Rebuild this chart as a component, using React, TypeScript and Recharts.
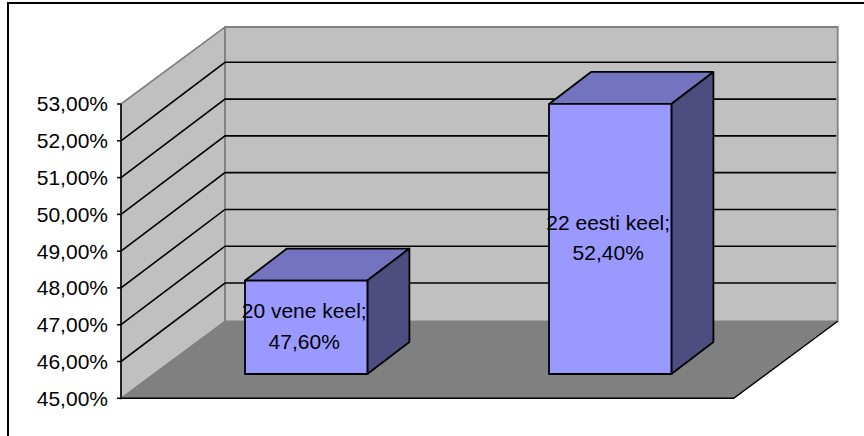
import { Bar, BarChart, CartesianGrid, LabelList, XAxis, YAxis } from 'recharts';

const categories = ['vene keel', 'eesti keel'];
const counts = [20, 22];
const shares = [47.6, 52.4];
const yTicks = [45, 46, 47, 48, 49, 50, 51, 52, 53];

const rows = categories.map((name, i) => ({ name, count: counts[i], share: shares[i] }));

const WIDTH = 864;
const HEIGHT = 436;

// front plane of the 3D box, everything else hangs off these
const LEFT = 121;
const RIGHT = 733.7;
const TOP = 104;
const BOTTOM = 398.3;
const DEPTH_X = 104;
const DEPTH_Y = 77;
const GRID_DEPTH_Y = 78.5;

// bars stand inside the floor, with their own shallower depth
const BAR_SHIFT_X = 33;
const BAR_SHIFT_TOP = 22.1;
const BAR_SHIFT_BASE = 24.3;
const BAR_DEPTH_X = 42;
const BAR_DEPTH_Y = 32;

const FONT = '"Liberation Sans", Arial, sans-serif';
const formatPercent = (v: number) => `${v.toFixed(2).replace('.', ',')}%`;

const pts = (list: number[][]) => list.map((p) => p.join(',')).join(' ');

const Walls = () => (
  <g>
    {/* only the top and left edges of the frame are in view */}
    <polyline points={pts([[8, HEIGHT], [8, 3], [WIDTH, 3]])} fill="none" stroke="#000" strokeWidth={2} />
    <polygon
      points={pts([[LEFT, TOP], [LEFT + DEPTH_X, TOP - DEPTH_Y], [LEFT + DEPTH_X, BOTTOM - DEPTH_Y], [LEFT, BOTTOM]])}
      fill="#c0c0c0"
      stroke="#808080"
      strokeWidth={1.6}
    />
    <polygon
      points={pts([[LEFT + DEPTH_X, TOP - DEPTH_Y], [RIGHT + DEPTH_X, TOP - DEPTH_Y], [RIGHT + DEPTH_X, BOTTOM - DEPTH_Y], [LEFT + DEPTH_X, BOTTOM - DEPTH_Y]])}
      fill="#c0c0c0"
      stroke="#808080"
      strokeWidth={1.8}
    />
    <polygon
      points={pts([[LEFT, BOTTOM], [LEFT + DEPTH_X, BOTTOM - DEPTH_Y], [RIGHT + DEPTH_X, BOTTOM - DEPTH_Y], [RIGHT, BOTTOM]])}
      fill="#808080"
    />
    <polyline
      points={pts([[LEFT, BOTTOM], [RIGHT, BOTTOM], [RIGHT + DEPTH_X, BOTTOM - DEPTH_Y]])}
      fill="none"
      stroke="#000"
      strokeWidth={1.4}
    />
  </g>
);

// a gridline runs up the side wall and then across the back wall
const WallGridLine = (props: any) => {
  const { y1, index } = props;
  if (y1 <= TOP + 1 || y1 >= BOTTOM - 1) return <g key={index} />;
  return (
    <polyline
      key={index}
      points={pts([[LEFT, y1], [LEFT + DEPTH_X, y1 - GRID_DEPTH_Y], [RIGHT + DEPTH_X - 1.5, y1 - GRID_DEPTH_Y]])}
      fill="none"
      stroke="#000"
      strokeWidth={1.6}
    />
  );
};

const Box = (props: any) => {
  const { x, y, width, height } = props;
  const x0 = x + BAR_SHIFT_X;
  const x1 = x0 + width;
  const top = y - BAR_SHIFT_TOP;
  const base = y + height - BAR_SHIFT_BASE;
  return (
    <g stroke="#000" strokeWidth={1.8} strokeLinejoin="round">
      <polygon
        points={pts([[x0, top], [x0 + BAR_DEPTH_X, top - BAR_DEPTH_Y], [x1 + BAR_DEPTH_X, top - BAR_DEPTH_Y], [x1, top]])}
        fill="#7373bf"
      />
      <polygon
        points={pts([[x1, top], [x1 + BAR_DEPTH_X, top - BAR_DEPTH_Y], [x1 + BAR_DEPTH_X, base - BAR_DEPTH_Y], [x1, base]])}
        fill="#4d4d80"
      />
      <rect x={x0} y={top} width={width} height={base - top} fill="#9999ff" />
    </g>
  );
};

const BoxLabel = (props: any) => {
  const { x, y, width, height, index } = props;
  const row = rows[index];
  const cx = x + BAR_SHIFT_X + width / 2 - 2;
  const cy = y + height / 2 - (BAR_SHIFT_TOP + BAR_SHIFT_BASE) / 2 - 1;
  return (
    <text x={cx} textAnchor="middle" fontFamily={FONT} fontSize={21} fill="#000">
      <tspan x={cx} y={cy - 8}>{`${row.count} ${row.name};`}</tspan>
      <tspan x={cx} y={cy + 22.5}>{formatPercent(row.share)}</tspan>
    </text>
  );
};

export default function App() {
  return (
    <div style={{ position: 'absolute', left: 0, top: 0 }}>
      <BarChart
        width={WIDTH}
        height={HEIGHT}
        data={rows}
        barSize={122.4}
        margin={{ left: 0, top: TOP, right: WIDTH - RIGHT, bottom: HEIGHT - BOTTOM }}
      >
        <Walls />
        <CartesianGrid horizontal={WallGridLine} vertical={false} zIndex={0} />
        <XAxis dataKey="name" hide padding={{ left: 0, right: 4.7 }} />
        <YAxis
          width={LEFT}
          domain={[45, 53]}
          ticks={yTicks}
          interval={0}
          tickFormatter={formatPercent}
          tick={{ fontFamily: FONT, fontSize: 21, fill: '#000' }}
          tickLine={{ stroke: '#000', strokeWidth: 1.5 }}
          axisLine={{ stroke: '#000', strokeWidth: 1.5 }}
          tickSize={4}
          tickMargin={9}
        />
        <Bar dataKey="share" shape={Box} isAnimationActive={false}>
          <LabelList dataKey="share" content={BoxLabel} />
        </Bar>
      </BarChart>
    </div>
  );
}
